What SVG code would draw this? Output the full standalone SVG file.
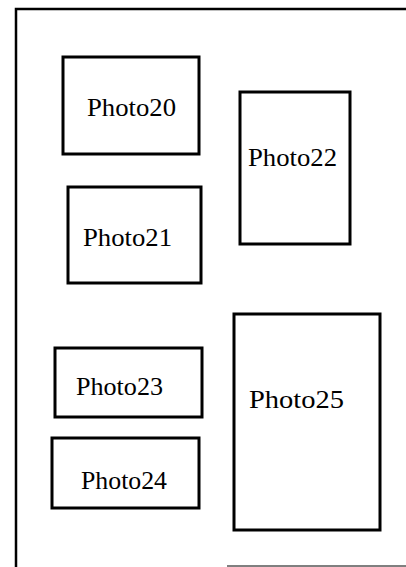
<svg xmlns="http://www.w3.org/2000/svg" width="406" height="567" viewBox="0 0 406 567">
<style>
.box{fill:#fff;stroke:#000;stroke-width:3}
.lbl{font-family:"Liberation Serif","Times New Roman",serif;font-size:26px;fill:#000}
.frame{fill:none;stroke:#000;stroke-width:2.5}
</style>
<rect width="406" height="567" fill="#fff"/>
<g id="frame">
<path class="frame" d="M406 9 H16 V567"/>
<line x1="227" y1="566" x2="406" y2="566" stroke="#000" stroke-width="1"/>
</g>
<g id="photo20"><rect class="box" x="63" y="57" width="136" height="97"/><text class="lbl" x="87" y="116" textLength="89" lengthAdjust="spacingAndGlyphs">Photo20</text></g>
<g id="photo21"><rect class="box" x="68" y="187" width="133" height="96"/><text class="lbl" x="83" y="246" textLength="89" lengthAdjust="spacingAndGlyphs">Photo21</text></g>
<g id="photo22"><rect class="box" x="240" y="92" width="110" height="152"/><text class="lbl" x="248" y="166" textLength="89" lengthAdjust="spacingAndGlyphs">Photo22</text></g>
<g id="photo23"><rect class="box" x="55" y="348" width="147" height="69"/><text class="lbl" x="76" y="395" textLength="87" lengthAdjust="spacingAndGlyphs">Photo23</text></g>
<g id="photo24"><rect class="box" x="52" y="438" width="147" height="70"/><text class="lbl" x="81" y="489" textLength="86" lengthAdjust="spacingAndGlyphs">Photo24</text></g>
<g id="photo25"><rect class="box" x="234" y="314" width="146" height="216"/><text class="lbl" x="249" y="408" textLength="95" lengthAdjust="spacingAndGlyphs">Photo25</text></g>
<g id="connectors"/>
</svg>
